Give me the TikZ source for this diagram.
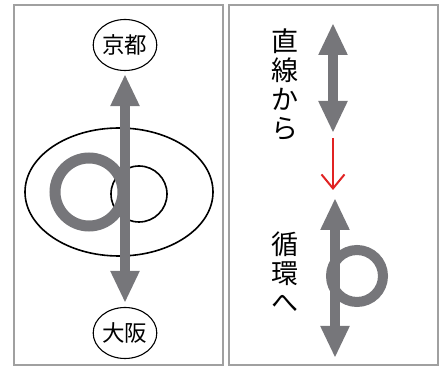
\documentclass[tikz,border=0pt]{standalone}
\usepackage{fontspec}
\newfontfamily\jp{Noto Sans CJK JP}
\usetikzlibrary{arrows.meta,shapes.geometric}
\definecolor{arrowgray}{RGB}{118,118,122}
\definecolor{framegray}{RGB}{160,160,160}
\definecolor{tipred}{RGB}{225,35,35}
\tikzset{
  panel/.style={draw=framegray, line width=2.5pt},
  city/.style={draw, ellipse, line width=1.1pt, inner sep=0pt,
    minimum width=58pt, minimum height=51pt, font=\jp\fontsize{22.5}{24}\selectfont},
  route/.style={draw=arrowgray, line width=10pt,
    {Triangle[width=27pt,length=32pt]}-{Triangle[width=27pt,length=32pt]}},
  loop/.style={draw=arrowgray, line width=11pt},
  zone/.style={draw, line width=1.6pt},
  change/.style={draw=tipred, line width=2pt, -{Straight Barb[width=23pt,length=14pt]}},
  vtext/.style={align=center, inner sep=0pt, font=\jp\fontsize{27}{29}\selectfont}
}

\begin{document}
\begin{tikzpicture}[x=1pt, y=-1pt]
  \useasboundingbox (0,0) rectangle (440,374);
  \draw[panel] (14,5) rectangle (223,365);
  \draw[panel] (229,5) rectangle (438,365);

  \node[city] (kyoto) at (125,45) {京都};
  \node[city] (osaka) at (125,333) {大阪};
  \draw[zone] (119,192) ellipse [x radius=94, y radius=64];
  \draw[zone] (139,194) circle (28);
  \draw[loop] (89,192) circle (34);
  \draw[route, shorten <=3pt, shorten >=4pt] (kyoto) -- (osaka);

  \node[vtext] (before) at (285,85) {直\\線\\か\\ら};
  \node[vtext] (after) at (285,272) {循\\環\\へ};
  \coordinate (line top) at (333,23);
  \coordinate (line bot) at (333,133);
  \coordinate (red top) at (333,138);
  \coordinate (red bot) at (333,190);
  \coordinate (ring top) at (335,198);
  \coordinate (ring bot) at (335,358);
  \draw[route] (line top) -- (line bot);
  \draw[change] (red top) -- (red bot);
  \draw[loop, line width=10pt] (357,276) circle (26);
  \draw[route] (ring top) -- (ring bot);
\end{tikzpicture}
\end{document}
